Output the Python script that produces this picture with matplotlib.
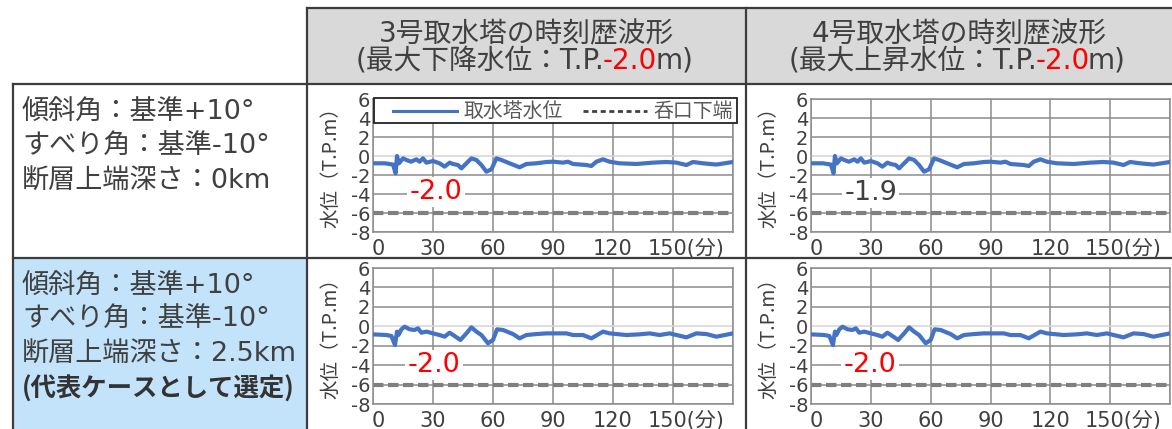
import matplotlib
matplotlib.use('Agg')
import matplotlib.pyplot as plt
import matplotlib.transforms as mtransforms
from matplotlib.lines import Line2D
from matplotlib.patches import Rectangle

plt.rcParams['axes.unicode_minus'] = False

CJK = 'Noto Sans CJK JP'
MIX = ['DejaVu Sans', 'Noto Sans CJK JP']

# ---------------- data ----------------
time_case1 = [0, 6, 10, 11.3, 12, 13, 15, 16.7, 19, 21.7, 23.3, 25, 26.7, 30, 33.3, 35.8,
              38.3, 40, 42.5, 44.2, 46.7, 49.2, 51.7, 54.2, 56.7, 59.2, 61.7, 64.2, 68.3,
              73.3, 76.7, 81.7, 86.7, 90, 95, 97.5, 100, 106.7, 109.2, 111.7, 115, 118.3,
              123.3, 131.7, 140, 146.7, 151.7, 156.7, 160, 165, 171.7, 180]
level_case1 = [-0.77, -0.77, -0.9, -1.82, 0.0, -0.77, -0.25, -0.42, -0.6, -0.35, -0.6,
               -0.25, -0.7, -0.53, -0.77, -1.12, -0.7, -0.84, -0.95, -1.3, -0.77, -0.25,
               -0.42, -0.95, -1.65, -1.4, -0.25, -0.42, -0.77, -1.19, -0.84, -0.77, -0.63,
               -0.6, -0.7, -0.6, -0.84, -0.95, -1.05, -0.6, -0.35, -0.6, -0.77, -0.84,
               -0.7, -0.63, -0.7, -0.95, -0.63, -0.77, -0.9, -0.63]

time_case2 = [0, 6.7, 9.2, 11, 12, 12.7, 14.2, 15.8, 18.3, 20.8, 22.5, 24.2, 26.7, 30,
              33.3, 35.8, 38.3, 40.8, 43.7, 46.7, 49.2, 51.7, 54.2, 57.5, 60, 62, 65, 70,
              73.3, 76.7, 81.7, 86.7, 90, 96.7, 100, 105, 109.2, 115, 118.3, 126.7, 133.3,
              138.3, 143.3, 148.3, 156.7, 161.7, 166.7, 171.7, 180]
level_case2 = [-0.83, -0.9, -1.0, -1.93, -0.55, -0.9, -0.31, -0.04, -0.31, -0.38, -0.21,
               -0.66, -0.55, -0.73, -0.9, -1.07, -0.66, -1.0, -1.41, -0.73, -0.11, -0.55,
               -0.9, -1.75, -1.41, -0.31, -0.38, -0.8, -1.24, -0.9, -0.8, -0.73, -0.73,
               -0.73, -0.9, -0.9, -1.24, -0.55, -0.73, -0.9, -0.83, -0.73, -0.9, -0.73,
               -1.14, -0.73, -0.8, -1.07, -0.73]

intake_bottom = -6.0

peak_labels = ['-2.0', '-1.9', '-2.0', '-2.0']
peak_colors = ['#ff0000', '#404040', '#ff0000', '#ff0000']

x_ticks = [0, 30, 60, 90, 120, 150, 180]
x_tick_labels = ['0', '30', '60', '90', '120', '150(分)', '']
y_ticks = [-8, -6, -4, -2, 0, 2, 4, 6]

header_line1 = ['3号取水塔の時刻歴波形', '4号取水塔の時刻歴波形']
header_line2 = [[('(最大下降水位：T.P.', '#404040'), ('-2.0', '#ff0000'), ('m)', '#404040')],
                [('(最大上昇水位：T.P.', '#404040'), ('-2.0', '#ff0000'), ('m)', '#404040')]]

row_labels = [['傾斜角：基準+10°', 'すべり角：基準-10°', '断層上端深さ：0km'],
              ['傾斜角：基準+10°', 'すべり角：基準-10°', '断層上端深さ：2.5km']]
row2_note = '(代表ケースとして選定)'

legend_labels = ['取水塔水位', '呑口下端']

# ---------------- figure ----------------
W, H = 1172, 429
fig = plt.figure(figsize=(W / 100, H / 100), dpi=100)
bg = fig.add_axes([0, 0, 1, 1])
bg.set_xlim(0, W)
bg.set_ylim(H, 0)
bg.axis('off')
bg.set_zorder(0)

# image-pixel (top-left origin) -> display transform
PIX = mtransforms.Affine2D().scale(1, -1).translate(0, H)

TXT = '#404040'
BORDER = '#3c3c3c'

# cell fills
bg.add_patch(Rectangle((307, 8), 870, 76, fc='#d9d9d9', ec='none'))
bg.add_patch(Rectangle((13, 258), 294, 180, fc='#c3e3fa', ec='none'))

# table lines
blw = 1.6
for (x0, x1, y0, y1) in [(307, W, 8, 8), (13, W, 84, 84), (13, W, 258, 258),
                         (13, 13, 84, H), (307, 307, 8, H), (746, 746, 8, H)]:
    bg.plot([x0, x1], [y0, y1], color=BORDER, lw=blw, clip_on=False,
            solid_capstyle='projecting')

renderer = fig.canvas.get_renderer()

# header texts
col_centers = [526.5, 959]
for i, xc in enumerate(col_centers):
    bg.text(xc, 34, header_line1[i], ha='center', va='center', fontsize=20,
            family=MIX, color=TXT)
    parts = []
    widths = []
    for s, c in header_line2[i]:
        t = bg.text(0, 61, s, ha='left', va='center', fontsize=20, family=MIX, color=c)
        widths.append(t.get_window_extent(renderer).width)
        parts.append(t)
    x = xc - sum(widths) / 2
    for t, w in zip(parts, widths):
        t.set_x(x)
        x += w - 2

# row labels
row_y = [[113, 147, 182], [287, 320, 355]]
for r in range(2):
    for s, y in zip(row_labels[r], row_y[r]):
        bg.text(22, y, s, ha='left', va='center', fontsize=19.5, family=MIX, color=TXT)
bg.text(22, 389, row2_note, ha='left', va='center', fontsize=18.3, family=CJK,
        color='#333333', fontweight='bold')

# ---------------- panels ----------------
GRID = '#8c8c8c'
BLUE = '#4472c4'


def px_rect(x0, x1, y0, y1):
    return [x0 / W, 1 - y1 / H, (x1 - x0) / W, (y1 - y0) / H]


panels = [
    (px_rect(373, 733, 99, 232), time_case1, level_case1, (31.5, -3.8)),
    (px_rect(811, 1170, 99, 232), time_case1, level_case1, (30.0, -3.9)),
    (px_rect(373, 733, 268, 404), time_case2, level_case2, (30.5, -4.0)),
    (px_rect(811, 1170, 268, 404), time_case2, level_case2, (29.6, -4.0)),
]

for k, (rect, tt, ww, (ax_t, ax_y)) in enumerate(panels):
    ax = fig.add_axes(rect)
    ax.set_zorder(2)
    ax.set_facecolor('white')
    ax.plot(tt, ww, color=BLUE, lw=3.0, solid_joinstyle='round', zorder=3)
    ax.axhline(intake_bottom, color='#7f7f7f', lw=3.0, dashes=(2.5, 1.1), zorder=2.5)
    ax.set_xlim(0, 180)
    ax.set_ylim(-8, 6)
    ax.set_xticks(x_ticks)
    ax.set_xticklabels(x_tick_labels)
    ax.set_yticks(y_ticks)
    ax.set_yticklabels([str(v) for v in y_ticks])
    ax.set_axisbelow(True)
    ax.grid(True, color=GRID, lw=1.1)
    ax.get_ygridlines()[y_ticks.index(0)].set_color('#d4d4d4')
    for sp in ax.spines.values():
        sp.set_color(GRID)
        sp.set_linewidth(1.1)
    ax.tick_params(axis='both', length=0, colors=TXT)
    ax.tick_params(axis='x', labelsize=15, pad=5)
    ax.tick_params(axis='y', labelsize=14, pad=2)
    for lab in ax.get_xticklabels():
        lab.set_family(MIX)
    for lab in ax.get_yticklabels():
        lab.set_family('DejaVu Sans')
    xl = ax.get_xticklabels()
    xl[5].set_transform(xl[5].get_transform() +
                        mtransforms.ScaledTranslation(13 / 100, 0, fig.dpi_scale_trans))
    xl[0].set_transform(xl[0].get_transform() +
                        mtransforms.ScaledTranslation(5 / 100, 0, fig.dpi_scale_trans))
    ax.set_ylabel('水位（T.P.m）', fontsize=14, family=CJK, color=TXT)
    ax.yaxis.set_label_coords(-0.088, 0.52)

    ax.text(ax_t, ax_y, peak_labels[k], ha='center', va='center', fontsize=19.5,
            family='DejaVu Sans', color=peak_colors[k], zorder=2.2,
            bbox=dict(fc='white', ec='none', pad=1.5))

    if k == 0:
        # legend box drawn in image-pixel coordinates
        ax.add_patch(Rectangle((374, 98), 363, 25, transform=PIX, fc='white',
                               ec='#222222', lw=1.3, clip_on=False, zorder=5))
        ax.add_line(Line2D([393, 457], [111, 111], transform=PIX, color=BLUE, lw=2.2,
                           clip_on=False, zorder=6))
        ax.add_line(Line2D([583, 647], [111, 111], transform=PIX, color='#404040',
                           lw=2.0, dashes=(1.8, 1.3), clip_on=False, zorder=6))
        ax.text(463, 111, legend_labels[0], transform=PIX, ha='left', va='center',
                fontsize=14.3, family=CJK, color='#595959', zorder=6, clip_on=False)
        ax.text(653, 111, legend_labels[1], transform=PIX, ha='left', va='center',
                fontsize=14.3, family=CJK, color='#595959', zorder=6, clip_on=False)

fig.savefig('out.png', dpi=100)
